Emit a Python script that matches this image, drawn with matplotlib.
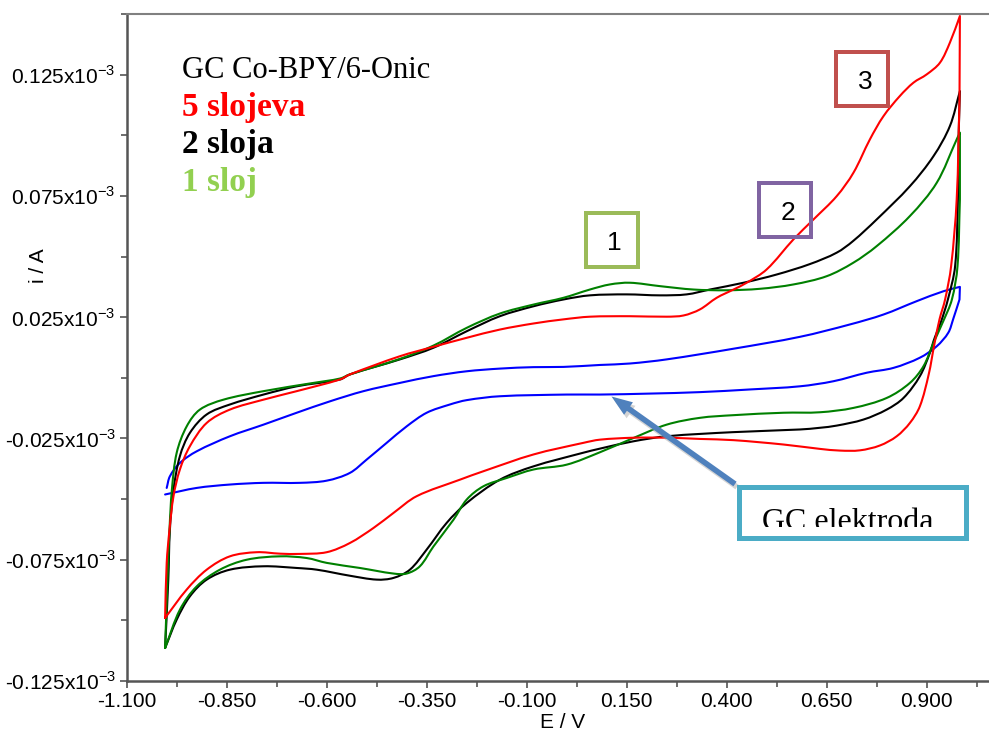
import matplotlib
matplotlib.use('Agg')
import matplotlib.pyplot as plt
import numpy as np
from matplotlib.patches import Rectangle, FancyArrowPatch, PathPatch
from matplotlib.path import Path
from matplotlib.transforms import Bbox, TransformedBbox

plt.rcParams['font.family'] = ['Liberation Sans', 'DejaVu Sans']
plt.rcParams['axes.unicode_minus'] = False
plt.rcParams['mathtext.fontset'] = 'custom'
plt.rcParams['mathtext.rm'] = 'Liberation Sans'

# ---------------- data (E in V, i in 10^-3 A) ----------------
black_fwd_E = [-1.004, -0.996, -0.992, -0.983, -0.967, -0.942, -0.900, -0.842, -0.758, -0.675,
               -0.567, -0.542, -0.417, -0.333, -0.250, -0.167, -0.083, -0.008, 0.058, 0.150,
               0.233, 0.300, 0.358, 0.442, 0.525, 0.608, 0.675, 0.716, 0.775, 0.858,
               0.917, 0.958, 0.983]
black_fwd_i = [-0.1114, -0.0832, -0.0626, -0.0461, -0.0323, -0.0227, -0.0151, -0.0110, -0.0069, -0.0035,
               -0.0007, 0.0014, 0.0076, 0.0124, 0.0192, 0.0254, 0.0295, 0.0323, 0.0340, 0.0344,
               0.0340, 0.0344, 0.0364, 0.0392, 0.0426, 0.0469, 0.0516, 0.0564, 0.0653, 0.0790,
               0.0914, 0.1038, 0.1182]
black_rev_E = [0.980, 0.978, 0.971, 0.953, 0.936, 0.925, 0.917, 0.908, 0.883, 0.842,
               0.800, 0.742, 0.675, 0.633, 0.583, 0.416, 0.250, 0.166, 0.083, 0.041,
               -0.083, -0.167, -0.250, -0.300, -0.350, -0.392, -0.433, -0.475, -0.542, -0.625,
               -0.675, -0.758, -0.842, -0.900, -0.942, -0.975, -1.004]
black_rev_i = [0.1012, 0.0736, 0.0460, 0.0323, 0.0232, 0.0186, 0.0151, 0.0103, 0.0007, -0.0083,
               -0.0131, -0.0172, -0.0197, -0.0206, -0.0213, -0.0224, -0.0241, -0.0262, -0.0292, -0.0309,
               -0.0365, -0.0420, -0.0516, -0.0598, -0.0708, -0.0791, -0.0825, -0.0832, -0.0816, -0.0791,
               -0.0784, -0.0777, -0.0791, -0.0832, -0.0901, -0.0997, -0.1114]

green_fwd_E = [-1.004, -0.998, -0.993, -0.987, -0.975, -0.950, -0.917, -0.858, -0.758, -0.633,
               -0.567, -0.542, -0.417, -0.333, -0.250, -0.167, -0.083, -0.008, 0.058, 0.108,
               0.158, 0.233, 0.317, 0.400, 0.483, 0.567, 0.650, 0.716, 0.775, 0.858,
               0.925, 0.975, 0.983]
green_fwd_i = [-0.1114, -0.0832, -0.0626, -0.0461, -0.0309, -0.0200, -0.0131, -0.0090, -0.0055, -0.0021,
               -0.0003, 0.0014, 0.0078, 0.0133, 0.0206, 0.0265, 0.0302, 0.0330, 0.0364, 0.0385,
               0.0392, 0.0378, 0.0364, 0.0361, 0.0367, 0.0385, 0.0419, 0.0474, 0.0543, 0.0667,
               0.0804, 0.0983, 0.1011]
green_rev_E = [0.983, 0.977, 0.963, 0.941, 0.917, 0.892, 0.858, 0.800, 0.717, 0.633,
               0.542, 0.417, 0.333, 0.250, 0.167, 0.083, 0.000, -0.083, -0.150, -0.208,
               -0.250, -0.283, -0.333, -0.367, -0.400, -0.433, -0.517, -0.600, -0.650, -0.717,
               -0.800, -0.867, -0.925, -0.967, -1.004]
green_rev_i = [0.0736, 0.0460, 0.0323, 0.0232, 0.0144, 0.0048, -0.0021, -0.0083, -0.0124, -0.0142,
               -0.0144, -0.0154, -0.0165, -0.0193, -0.0248, -0.0307, -0.0358, -0.0378, -0.0413, -0.0447,
               -0.0502, -0.0585, -0.0695, -0.0777, -0.0807, -0.0807, -0.0784, -0.0763, -0.0743, -0.0736,
               -0.0750, -0.0791, -0.0860, -0.0956, -0.1114]

red_fwd_E = [-1.004, -1.000, -0.993, -0.983, -0.967, -0.942, -0.900, -0.842, -0.758, -0.675,
             -0.567, -0.542, -0.417, -0.333, -0.250, -0.167, -0.083, -0.008, 0.058, 0.158,
             0.250, 0.292, 0.333, 0.375, 0.417, 0.450, 0.500, 0.567, 0.617, 0.675,
             0.717, 0.758, 0.792, 0.833, 0.867, 0.900, 0.933, 0.958, 0.983]
red_fwd_i = [-0.0990, -0.0763, -0.0626, -0.0488, -0.0378, -0.0282, -0.0186, -0.0131, -0.0090, -0.0055,
             -0.0007, 0.0014, 0.0089, 0.0128, 0.0165, 0.0199, 0.0224, 0.0241, 0.0252, 0.0254,
             0.0252, 0.0257, 0.0282, 0.0330, 0.0364, 0.0392, 0.0447, 0.0571, 0.0653, 0.0749,
             0.0846, 0.0983, 0.1079, 0.1162, 0.1217, 0.1251, 0.1299, 0.1382, 0.1492]
red_rev_E = [0.982, 0.975, 0.961, 0.946, 0.932, 0.919, 0.905, 0.883, 0.858, 0.825,
             0.783, 0.733, 0.683, 0.633, 0.542, 0.417, 0.333, 0.250, 0.167, 0.083,
             0.042, -0.083, -0.208, -0.267, -0.375, -0.433, -0.483, -0.542, -0.600, -0.667,
             -0.717, -0.775, -0.842, -0.900, -0.950, -1.004]
red_rev_i = [0.1148, 0.0736, 0.0460, 0.0323, 0.0241, 0.0137, 0.0014, -0.0117, -0.0186, -0.0241,
             -0.0279, -0.0299, -0.0300, -0.0293, -0.0275, -0.0257, -0.0252, -0.0247, -0.0247, -0.0255,
             -0.0268, -0.0316, -0.0385, -0.0420, -0.0488, -0.0557, -0.0619, -0.0681, -0.0719, -0.0726,
             -0.0725, -0.0719, -0.0736, -0.0791, -0.0873, -0.0990]

blue_fwd_E = [-1.000, -0.992, -0.967, -0.925, -0.842, -0.758, -0.675, -0.592, -0.508, -0.417,
              -0.333, -0.250, -0.167, -0.083, -0.008, 0.083, 0.158, 0.250, 0.417, 0.583,
              0.708, 0.792, 0.875, 0.942, 0.983]
blue_fwd_i = [-0.0454, -0.0406, -0.0351, -0.0303, -0.0241, -0.0193, -0.0144, -0.0097, -0.0055, -0.0021,
              0.0007, 0.0027, 0.0038, 0.0044, 0.0045, 0.0053, 0.0059, 0.0076, 0.0120, 0.0169,
              0.0220, 0.0261, 0.0316, 0.0357, 0.0375]
blue_rev_E = [0.982, 0.966, 0.954, 0.925, 0.883, 0.817, 0.750, 0.667, 0.583, 0.458,
              0.333, 0.208, 0.083, 0.000, -0.167, -0.250, -0.292, -0.350, -0.400, -0.450,
              -0.500, -0.542, -0.600, -0.667, -0.758, -0.842, -0.925, -1.004]
blue_rev_i = [0.0323, 0.0241, 0.0186, 0.0130, 0.0083, 0.0041, 0.0021, -0.0014, -0.0035, -0.0048,
              -0.0059, -0.0065, -0.0069, -0.0069, -0.0076, -0.0092, -0.0110, -0.0144, -0.0200, -0.0268,
              -0.0337, -0.0392, -0.0424, -0.0433, -0.0433, -0.0440, -0.0454, -0.0481]

x_major = [-1.100, -0.850, -0.600, -0.350, -0.100, 0.150, 0.400, 0.650, 0.900]
y_major = [-0.125, -0.075, -0.025, 0.025, 0.075, 0.125]

legend_title = 'GC Co-BPY/6-Onic'
legend_items = ['5 slojeva', '2 sloja', '1 sloj']
legend_colors = ['#FF0000', '#000000', '#92D050']

# ---------------- figure ----------------
W, H = 989, 737
fig = plt.figure(figsize=(W / 100, H / 100), dpi=100)
fig.patch.set_facecolor('white')


def fx(px):
    return px / W


def fy(py):
    return 1 - py / H


ax_left, ax_top, ax_bottom = 126.7, 14, 681
ax = fig.add_axes([fx(ax_left), fy(ax_bottom), 1 - fx(ax_left), (ax_bottom - ax_top) / H])
ax.set_xlim(-1.1, -1.1 + (W - ax_left) / 400.0)
ax.set_ylim(-0.125, 0.150)

# aspect factors so the smoothing tangents are computed in screen-like units
SX, SY = 400.0, 2424.0


def smooth_branch(E, I):
    """Smooth line through the read points (cubic Bezier segments)."""
    P = np.column_stack([E, I]).astype(float)
    S = P * [SX, SY]
    n = len(P)
    d = np.r_[np.hypot(*np.diff(S, axis=0).T)]
    tang = np.zeros_like(P)
    for k in range(n):
        if k == 0:
            tang[k] = (P[1] - P[0]) / max(d[0], 1e-9)
        elif k == n - 1:
            tang[k] = (P[-1] - P[-2]) / max(d[-1], 1e-9)
        else:
            tang[k] = (P[k + 1] - P[k - 1]) / max(d[k - 1] + d[k], 1e-9)
    verts, codes = [], []
    for k in range(n - 1):
        c1 = P[k] + tang[k] * d[k] / 3
        c2 = P[k + 1] - tang[k + 1] * d[k] / 3
        verts += [c1, c2, P[k + 1]]
        codes += [Path.CURVE4] * 3
    return P[0], verts, codes


def draw_cv(branches, color):
    verts, codes = [], []
    for j, (E, I) in enumerate(branches):
        p0, v, c = smooth_branch(E, I)
        verts.append(p0)
        codes.append(Path.MOVETO if j == 0 else Path.LINETO)
        verts += v
        codes += c
    patch = PathPatch(Path(verts, codes), transform=ax.transData, fill=False,
                      edgecolor=color, lw=1.5, capstyle='round', joinstyle='round')
    ax.add_patch(patch)


draw_cv([(blue_fwd_E, blue_fwd_i), (blue_rev_E, blue_rev_i)], '#0000FF')
draw_cv([(black_fwd_E, black_fwd_i), (black_rev_E, black_rev_i)], '#000000')
draw_cv([(green_fwd_E, green_fwd_i), (green_rev_E, green_rev_i)], '#008000')
draw_cv([(red_fwd_E, red_fwd_i), (red_rev_E, red_rev_i)], '#FF0000')

ax.set_xticks(x_major)
ax.set_xticklabels([f'{v:.3f}' for v in x_major])
ax.set_xticks([v + 0.125 for v in x_major], minor=True)
ax.set_yticks(y_major)
ax.set_yticklabels([f'{v:.3f}x10$^{{\\mathregular{{-3}}}}$' for v in y_major])
ax.set_yticks([v + 0.025 for v in y_major], minor=True)

ax.spines['right'].set_visible(False)
ax.spines['top'].set_color('#808080')
ax.spines['top'].set_linewidth(1.5)
for s in ('left', 'bottom'):
    ax.spines[s].set_color('#555555')
    ax.spines[s].set_linewidth(1.8)
ax.tick_params(which='both', direction='out', color='#555555', width=1.2,
               labelsize=15, labelcolor='black')
ax.tick_params(which='major', length=5, pad=3)
ax.tick_params(which='minor', length=4)

# axis labels
fig.text(fx(563), fy(722), 'E / V', ha='center', va='center', fontsize=15)
fig.text(fx(39), fy(266), 'i / A', ha='center', va='center', fontsize=15, rotation=90)

# legend-like text block
fig.text(fx(182), fy(78.5), legend_title, family='Liberation Serif', fontsize=22,
         color='black', va='baseline', ha='left')
for k, (txt, col) in enumerate(zip(legend_items, legend_colors)):
    fig.text(fx(182), fy(116 + 37.5 * k), txt, family='Liberation Serif', fontsize=24,
             fontweight='bold', color=col, va='baseline', ha='left')


def box(x0, y0, x1, y1, color, lwpx):
    r = Rectangle((fx(x0), fy(y1)), fx(x1) - fx(x0), fy(y0) - fy(y1),
                  transform=fig.transFigure, fill=False, edgecolor=color,
                  linewidth=lwpx * 0.72, joinstyle='miter')
    fig.add_artist(r)


# numbered boxes
box(585.5, 212.7, 638, 266.7, '#9BBB59', 4)
fig.text(fx(614), fy(243), '1', ha='center', va='center', fontsize=19, color='black')
box(759.3, 183, 811.3, 236.7, '#8064A2', 4)
fig.text(fx(788), fy(213), '2', ha='center', va='center', fontsize=19, color='black')
box(836, 51.7, 888, 105.7, '#C0504D', 4)
fig.text(fx(865), fy(82), '3', ha='center', va='center', fontsize=19, color='black')

# GC elektroda box and arrow
shadow = FancyArrowPatch((fx(737), fy(487)), (fx(614), fy(400)), transform=fig.transFigure,
                         arrowstyle='simple,head_length=1.5,head_width=1.1,tail_width=0.4',
                         mutation_scale=10, color='#A0A0A0', alpha=0.45, lw=0,
                         shrinkA=0, shrinkB=0)
fig.add_artist(shadow)
arrow = FancyArrowPatch((fx(735), fy(484)), (fx(611.5), fy(396.5)), transform=fig.transFigure,
                        arrowstyle='simple,head_length=1.5,head_width=1.1,tail_width=0.4',
                        mutation_scale=10, color='#4F81BD', lw=0, shrinkA=0, shrinkB=0)
fig.add_artist(arrow)
bg = Rectangle((fx(739), fy(538)), fx(966) - fx(739), fy(487) - fy(538),
               transform=fig.transFigure, facecolor='white', edgecolor='none')
fig.add_artist(bg)
box(739.2, 486.8, 965.8, 537.5, '#4BACC6', 5)
t = fig.text(fx(848), fy(529.5), 'GC elektroda', family='Liberation Serif', fontsize=23,
             color='black', ha='center', va='baseline')
t.set_clip_box(TransformedBbox(Bbox.from_extents(fx(742), fy(527), fx(963), fy(489)),
                               fig.transFigure))

fig.savefig('out.png', dpi=100, facecolor='white')
